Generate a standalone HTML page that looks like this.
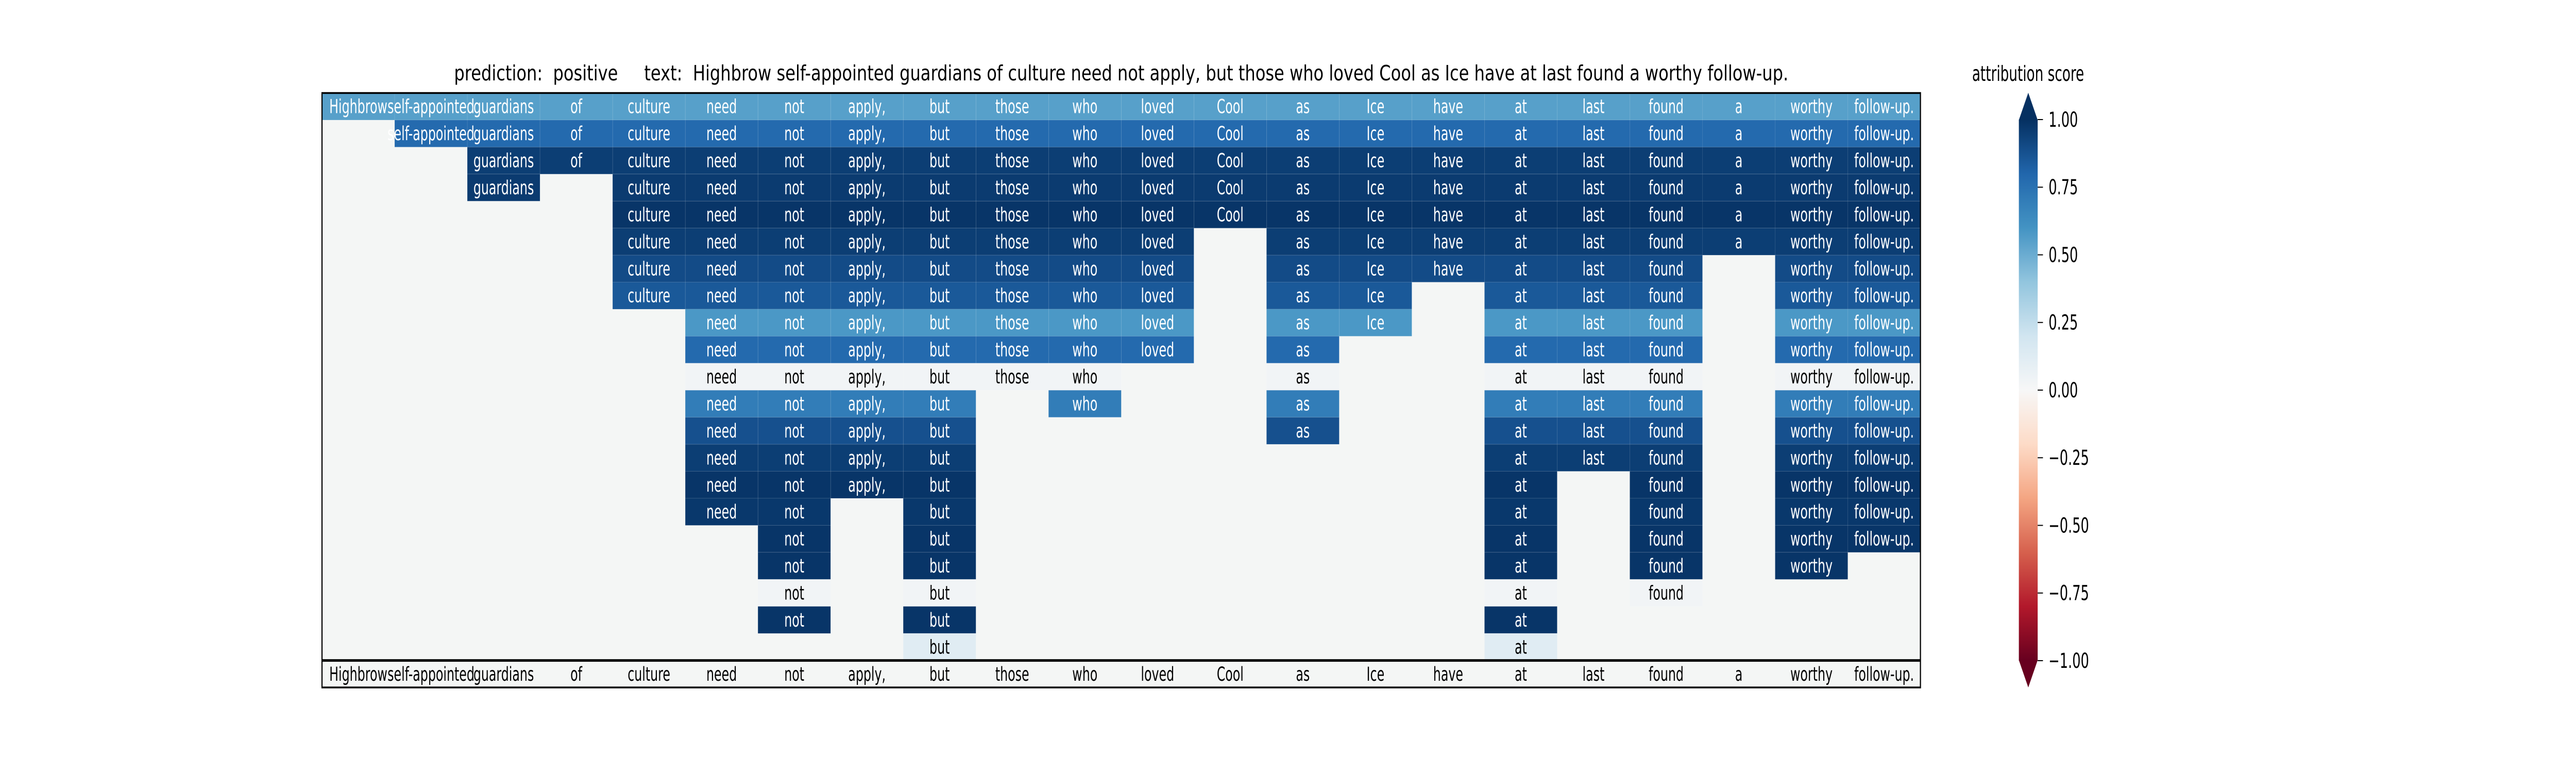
<!DOCTYPE html>
<html><head><meta charset="utf-8"><meta name="viewport" content="width=7800"><style>
html,body{margin:0;padding:0;background:#fff;overflow:hidden;width:100vw;height:100vh;}
svg{display:block;width:100vw;height:100vh;font-family:"DejaVu Sans","Liberation Sans",sans-serif;}
</style></head>
<body>
<svg id="chart" viewBox="0 0 7800 1500" preserveAspectRatio="none" xmlns="http://www.w3.org/2000/svg">
<rect width="7800" height="1500" fill="#ffffff"/>
<text x="3395" y="156" font-size="41" text-anchor="middle" textLength="4040" lengthAdjust="spacingAndGlyphs" xml:space="preserve">prediction:  positive     text:  Highbrow self-appointed guardians of culture need not apply, but those who loved Cool as Ice have at last found a worthy follow-up.</text>
<g id="cells"></g>
<g id="bottom"></g>
<g id="cbar"></g>
</svg>
<script>
const tokens = ["Highbrow","self-appointed","guardians","of","culture","need","not","apply,","but","those","who","loved","Cool","as","Ice","have","at","last","found","a","worthy","follow-up."];
// per-row attribution score for each heatmap row
const rowScores = [0.55,0.78,0.95,0.96,0.98,0.95,0.90,0.85,0.58,0.78,0.03,0.70,0.88,0.95,0.98,0.97,0.98,0.98,0.03,0.98,0.12];
// columns present in each row
const rowColumns = [
 [0,1,2,3,4,5,6,7,8,9,10,11,12,13,14,15,16,17,18,19,20,21],
 [1,2,3,4,5,6,7,8,9,10,11,12,13,14,15,16,17,18,19,20,21],
 [2,3,4,5,6,7,8,9,10,11,12,13,14,15,16,17,18,19,20,21],
 [2,4,5,6,7,8,9,10,11,12,13,14,15,16,17,18,19,20,21],
 [4,5,6,7,8,9,10,11,12,13,14,15,16,17,18,19,20,21],
 [4,5,6,7,8,9,10,11,13,14,15,16,17,18,19,20,21],
 [4,5,6,7,8,9,10,11,13,14,15,16,17,18,20,21],
 [4,5,6,7,8,9,10,11,13,14,16,17,18,20,21],
 [5,6,7,8,9,10,11,13,14,16,17,18,20,21],
 [5,6,7,8,9,10,11,13,16,17,18,20,21],
 [5,6,7,8,9,10,13,16,17,18,20,21],
 [5,6,7,8,10,13,16,17,18,20,21],
 [5,6,7,8,13,16,17,18,20,21],
 [5,6,7,8,16,17,18,20,21],
 [5,6,7,8,16,18,20,21],
 [5,6,8,16,18,20,21],
 [6,8,16,18,20,21],
 [6,8,16,18,20],
 [6,8,16,18],
 [6,8,16],
 [8,16]
];
const cbarTicks = [1,0.75,0.5,0.25,0,-0.25,-0.5,-0.75,-1];
const cbarLabels = ["1.00","0.75","0.50","0.25","0.00","\u22120.25","\u22120.50","\u22120.75","\u22121.00"];

const NS="http://www.w3.org/2000/svg";
const X0=975, X1=5815, Y0=180.5, Y1=1334;
const nCols=tokens.length, nRows=rowScores.length+1;
const cw=(X1-X0)/nCols, rh=(Y1-Y0)/nRows;
const xPos=c=>X0+c*cw, yPos=r=>Y0+r*rh;
const stops=["#67001f","#b2182b","#d6604d","#f4a582","#fddbc7","#f7f7f7","#d1e5f0","#92c5de","#4393c3","#2166ac","#053061"];
function hex(h){return [1,3,5].map(i=>parseInt(h.substr(i,2),16));}
function color(v){
  let t=Math.max(0,Math.min(1,(v+1)/2))*10; let i=Math.min(9,Math.floor(t)); let f=t-i;
  const a=hex(stops[i]), b=hex(stops[i+1]);
  return "rgb("+a.map((x,k)=>Math.round(x+(b[k]-x)*f)).join(",")+")";
}
function mk(tag,attrs,parent){const e=document.createElementNS(NS,tag);for(const k in attrs)e.setAttribute(k,attrs[k]);parent.appendChild(e);return e;}
const cells=document.getElementById("cells");
mk("rect",{x:X0,y:Y0,width:X1-X0,height:Y1-Y0,fill:"#f4f6f5"},cells);
rowColumns.forEach((cols,r)=>{
  const v=rowScores[r];
  cols.forEach(c=>{
    const rect=mk("rect",{x:xPos(c),y:yPos(r),width:cw,height:rh,fill:color(v),stroke:"rgba(255,255,255,0.12)","stroke-width":1},cells);
    
    
  });
});
rowColumns.forEach((cols,r)=>{
  const v=rowScores[r];
  cols.forEach(c=>{
    const t=mk("text",{x:xPos(c)+cw/2,y:yPos(r)+rh/2+13,"font-size":37,"text-anchor":"middle",fill:v>0.35?"#ffffff":"#000000"},cells);
    t.textContent=tokens[c];
    
    
  });
});
const bottom=document.getElementById("bottom");
const by=yPos(nRows-1);
tokens.forEach((tk,c)=>{
  const t=mk("text",{x:xPos(c)+cw/2,y:by+rh/2+13,"font-size":37,"text-anchor":"middle",fill:"#000"},bottom);
  t.textContent=tk;
  
  
});
mk("line",{x1:X0,x2:X1,y1:by,y2:by,stroke:"#000","stroke-width":5},bottom);
mk("rect",{x:X0,y:Y0,width:X1-X0,height:Y1-Y0,fill:"none",stroke:"#000","stroke-width":3.5},bottom);

// colorbar
const cb=document.getElementById("cbar");
const CX0=6113, CX1=6170, CT=232, CB=1282;
const cy=v=>CT+(1-v)/2*(CB-CT);
const defs=mk("defs",{},cb);
const grad=mk("linearGradient",{id:"g",x1:0,y1:0,x2:0,y2:1},defs);
for(let i=0;i<=20;i++){const v=1-i/10;mk("stop",{offset:(i/20),"stop-color":color(v)},grad);}
mk("rect",{x:CX0,y:CT,width:CX1-CX0,height:CB-CT,fill:"url(#g)"},cb);
mk("polygon",{points:`${CX0},${CT+1} ${(CX0+CX1)/2},180 ${CX1},${CT+1}`,fill:color(1)},cb);
mk("polygon",{points:`${CX0},${CB-1} ${(CX0+CX1)/2},1334 ${CX1},${CB-1}`,fill:color(-1)},cb);
cbarTicks.forEach((v,i)=>{
  const l=mk("line",{x1:CX1,x2:CX1+16,y1:cy(v),y2:cy(v),stroke:"#000","stroke-width":2},cb);
  
  
  const t=mk("text",{x:6203,y:cy(v)+14,"font-size":40,fill:"#000"},cb);
  t.textContent=cbarLabels[i];
  
  
});
const ct=mk("text",{x:6141,y:157,"font-size":41,"text-anchor":"middle",fill:"#000"},cb);
ct.textContent="attribution score";


</script>
</body></html>
